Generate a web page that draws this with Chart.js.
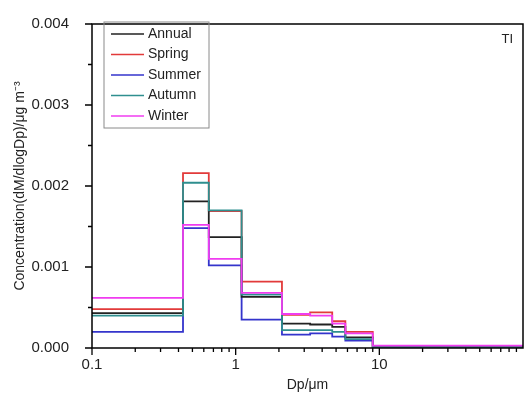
<!DOCTYPE html>
<html>
<head>
<meta charset="utf-8">
<script src="https://cdn.jsdelivr.net/npm/chart.js@4"></script>
<style>
  body { margin: 0; background: #fff; }
  #wrap { width: 531px; height: 396px; }
</style>
</head>
<body>
<div id="wrap"><canvas id="sizeChart" width="531" height="396"></canvas></div>
<script>
// bin edges of the impactor stages (um) and dM/dlogDp per bin
const edges = [0.1, 0.43, 0.65, 1.1, 2.1, 3.3, 4.7, 5.8, 9.0, 100];
const annual = [0.00043, 0.00181, 0.00137, 0.00063, 0.00030, 0.00029, 0.00026, 0.00013, 0.00001];
const spring = [0.00048, 0.00216, 0.00169, 0.00082, 0.00041, 0.00044, 0.00033, 0.00020, 0.00002];
const summer = [0.00020, 0.00148, 0.00102, 0.00035, 0.000165, 0.00018, 0.00014, 0.00009, 0.00001];
const autumn = [0.00040, 0.00204, 0.00170, 0.00066, 0.00022, 0.00022, 0.00020, 0.00011, 0.00001];
const winter = [0.00062, 0.00152, 0.00110, 0.00068, 0.00042, 0.00040, 0.00030, 0.00018, 0.00003];
const xLabels = [0.1, 1, 10];
const yTicks = [0, 0.001, 0.002, 0.003, 0.004];

const FONT = "'Liberation Sans', Arial, sans-serif";

function steps(vals) {
    return edges.map((e, i) => ({ x: e, y: vals[Math.min(i, vals.length - 1)] }));
}

// order: lower is drawn on top
const series = [
    { label: 'Annual', data: annual, color: '#222222', order: 3 },
    { label: 'Spring', data: spring, color: '#e23a3a', order: 4 },
    { label: 'Summer', data: summer, color: '#3434cc', order: 5 },
    { label: 'Autumn', data: autumn, color: '#2f8f8f', order: 2 },
    { label: 'Winter', data: winter, color: '#f03cf0', order: 1 }
];

// frame, tick marks, legend box and the site label
const framePlugin = {
    id: 'frame',
    afterDraw(chart) {
        const ctx = chart.ctx;
        const a = chart.chartArea;
        const xs = chart.scales.x, ys = chart.scales.y;
        ctx.save();
        ctx.strokeStyle = '#000';
        ctx.lineWidth = 1.5;
        ctx.strokeRect(a.left, a.top, a.right - a.left, a.bottom - a.top);

        ctx.lineWidth = 1.3;
        ctx.beginPath();
        // y ticks, major every 0.001, minor in between
        for (let v = 0; v <= 0.0040001; v += 0.0005) {
            const y = ys.getPixelForValue(v);
            const major = Math.abs(v / 0.001 - Math.round(v / 0.001)) < 1e-6;
            ctx.moveTo(a.left, y);
            ctx.lineTo(a.left - (major ? 7 : 4), y);
        }
        // x ticks, decades and 2..9 between them
        for (let d = 0.1; d < 100; d *= 10) {
            for (let m = 1; m <= 9; m++) {
                const v = d * m;
                const x = xs.getPixelForValue(v);
                if (x > a.right + 0.5) continue;
                ctx.moveTo(x, a.bottom);
                ctx.lineTo(x, a.bottom + (m === 1 ? 7 : 4));
            }
        }
        ctx.stroke();

        // legend
        const lx = 104, ly = 22, lw = 105, lh = 106;
        ctx.lineWidth = 1;
        ctx.strokeStyle = '#8a8a8a';
        ctx.strokeRect(lx, ly, lw, lh);
        ctx.font = '14px ' + FONT;
        ctx.textBaseline = 'middle';
        chart.data.datasets.forEach((ds, i) => {
            const cy = ly + 12 + i * 20.5;
            ctx.strokeStyle = ds.borderColor;
            ctx.lineWidth = 1.6;
            ctx.beginPath();
            ctx.moveTo(lx + 7, cy);
            ctx.lineTo(lx + 40, cy);
            ctx.stroke();
            ctx.fillStyle = '#222';
            ctx.fillText(ds.label, lx + 44, cy);
        });

        ctx.fillStyle = '#222';
        ctx.font = '13px ' + FONT;
        ctx.textAlign = 'right';
        ctx.fillText('TI', a.right - 10, 39);
        ctx.restore();
    }
};

new Chart(document.getElementById('sizeChart'), {
    type: 'line',
    data: {
        datasets: series.map(s => ({
            label: s.label,
            data: steps(s.data),
            order: s.order,
            borderColor: s.color,
            backgroundColor: s.color,
            borderWidth: 1.8,
            stepped: 'before',
            pointRadius: 0,
            fill: false
        }))
    },
    options: {
        responsive: false,
        animation: false,
        layout: { padding: { left: 4, top: 16, right: 8, bottom: 2 } },
        plugins: {
            legend: { display: false },
            tooltip: { enabled: false }
        },
        scales: {
            x: {
                type: 'logarithmic',
                min: 0.1,
                max: 100,
                grid: { display: false },
                border: { display: false },
                afterFit: s => { s.height = 46; },
                ticks: {
                    autoSkip: false,
                    maxRotation: 0,
                    padding: 0,
                    color: '#222',
                    font: { family: FONT, size: 15 },
                    callback: v => xLabels.some(t => Math.abs(t - v) < 1e-9) ? String(v) : ''
                },
                title: {
                    display: true,
                    text: 'Dp/\u03bcm',
                    color: '#222',
                    font: { family: FONT, size: 14 },
                    padding: { top: 0, bottom: 0 }
                }
            },
            y: {
                min: 0,
                max: 0.004,
                grid: { display: false },
                border: { display: false },
                afterFit: s => { s.width = 88; },
                afterBuildTicks: s => { s.ticks = yTicks.map(v => ({ value: v })); },
                ticks: {
                    padding: 15,
                    color: '#222',
                    font: { family: FONT, size: 15 },
                    callback: v => v.toFixed(3)
                },
                title: {
                    display: true,
                    text: 'Concentration(dM/dlogDp)/\u03bcg m\u207b\u00b3',
                    color: '#222',
                    font: { family: FONT, size: 14 },
                    padding: { top: 8, bottom: 0 }
                }
            }
        }
    },
    plugins: [framePlugin]
});
</script>
</body>
</html>
